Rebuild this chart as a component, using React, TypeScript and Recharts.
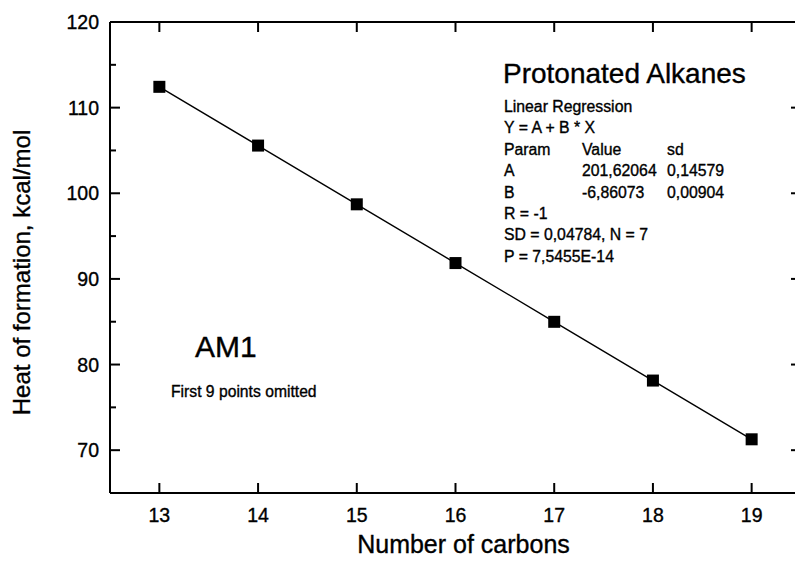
import React from 'react';
import { LineChart, Line, XAxis, YAxis } from 'recharts';

// Heat of formation of protonated alkanes (AM1), kcal/mol
const carbons = [13, 14, 15, 16, 17, 18, 19];
const heatOfFormation = [112.43, 105.57, 98.71, 91.85, 84.99, 78.13, 71.27];

const xTicks = [13, 14, 15, 16, 17, 18, 19];
const yTicks = [65, 70, 75, 80, 85, 90, 95, 100, 105, 110, 115, 120];

const xTitle = 'Number of carbons';
const yTitle = 'Heat of formation, kcal/mol';

const fitTitle = 'Protonated Alkanes';
const fitRows: string[][] = [
  ['Linear Regression'],
  ['Y = A + B * X'],
  ['Param', 'Value', 'sd'],
  ['A', '201,62064', '0,14579'],
  ['B', '-6,86073', '0,00904'],
  ['R  = -1'],
  ['SD = 0,04784, N = 7'],
  ['P = 7,5455E-14'],
];
const methodLabel = 'AM1';
const methodNote = 'First 9 points omitted';

const data = carbons.map((n, i) => ({ n, hf: heatOfFormation[i] }));

const X_DOMAIN: [number, number] = [12.5, 19.5];
const Y_DOMAIN: [number, number] = [65, 120];
const INK = '#000';
const frame = { stroke: INK, strokeWidth: 2 };
// scanned print looks a touch heavier than plain Arial
const ink = { fill: INK, stroke: INK, strokeWidth: 0.35 };

const isMajor = (v: number) => v % 10 === 0;
const tickLen = (v: number) => (isMajor(v) ? 10 : 6);

// ticks point into the plot; labels sit outside
const BottomTick = (props: any) => {
  const { x, y, payload } = props;
  return (
    <g>
      <line x1={x} y1={y} x2={x} y2={y - 10} {...frame} />
      <text x={x} y={y + 29} textAnchor="middle" fontSize={19.5} {...ink}>
        {payload.value}
      </text>
    </g>
  );
};

const TopTick = (props: any) => {
  const { x, y } = props;
  return <line x1={x} y1={y} x2={x} y2={y + 10} {...frame} />;
};

const LeftTick = (props: any) => {
  const { x, y, payload } = props;
  const v = payload.value;
  return (
    <g>
      <line x1={x} y1={y} x2={x + tickLen(v)} y2={y} {...frame} />
      {isMajor(v) && (
        <text x={x - 11} y={y + 7} textAnchor="end" fontSize={19.5} {...ink}>
          {v}
        </text>
      )}
    </g>
  );
};

const RightTick = (props: any) => {
  const { x, y, payload } = props;
  return <line x1={x} y1={y} x2={x - tickLen(payload.value)} y2={y} {...frame} />;
};

const XTitle = (props: any) => {
  const vb = props.viewBox;
  return (
    <text x={vb.x + vb.width / 2 + 8} y={vb.y + 60} textAnchor="middle" fontSize={25} {...ink}>
      {xTitle}
    </text>
  );
};

const YTitle = (props: any) => {
  const vb = props.viewBox;
  const x = vb.x + 30;
  const y = vb.y + vb.height / 2 + 15;
  return (
    <text x={x} y={y} textAnchor="middle" fontSize={24} {...ink} transform={`rotate(-90, ${x}, ${y})`}>
      {yTitle}
    </text>
  );
};

const colX = [504, 582, 667];

export default function App() {
  return (
    <div
      style={{
        position: 'absolute',
        left: 0,
        top: 0,
        width: 795,
        height: 562,
        overflow: 'hidden',
        background: '#fff',
        fontFamily: '"Liberation Sans", Arial, sans-serif',
      }}
    >
      <LineChart width={802} height={562} data={data} margin={{ top: 21, right: 0, bottom: 0, left: 0 }}>
        <XAxis
          xAxisId="x"
          type="number"
          dataKey="n"
          domain={X_DOMAIN}
          ticks={xTicks}
          allowDataOverflow
          height={69}
          axisLine={frame}
          tickLine={false}
          tickSize={0}
          tickMargin={0}
          tick={<BottomTick />}
          label={{ content: <XTitle /> }}
        />
        <XAxis
          xAxisId="xt"
          orientation="top"
          type="number"
          dataKey="n"
          domain={X_DOMAIN}
          ticks={xTicks}
          allowDataOverflow
          height={1}
          axisLine={frame}
          tickLine={false}
          tickSize={0}
          tickMargin={0}
          tick={<TopTick />}
        />
        <YAxis
          yAxisId="y"
          type="number"
          domain={Y_DOMAIN}
          ticks={yTicks}
          allowDataOverflow
          interval={0}
          width={110}
          axisLine={frame}
          tickLine={false}
          tickSize={0}
          tickMargin={0}
          tick={<LeftTick />}
          label={{ content: <YTitle /> }}
        />
        <YAxis
          yAxisId="yr"
          orientation="right"
          type="number"
          domain={Y_DOMAIN}
          ticks={yTicks}
          allowDataOverflow
          interval={0}
          width={1}
          axisLine={frame}
          tickLine={false}
          tickSize={0}
          tickMargin={0}
          tick={<RightTick />}
        />

        {/* the top/right frame axes need a series to be scaled; this one draws nothing */}
        <Line
          xAxisId="xt"
          yAxisId="yr"
          dataKey="hf"
          stroke="none"
          dot={false}
          activeDot={false}
          legendType="none"
          isAnimationActive={false}
        />
        <Line
          xAxisId="x"
          yAxisId="y"
          dataKey="hf"
          stroke={INK}
          strokeWidth={1.4}
          dot={(p: any) => (
            <rect key={p.index} x={p.cx - 6} y={p.cy - 6} width={12} height={12} fill={INK} />
          )}
          activeDot={false}
          isAnimationActive={false}
        />
      </LineChart>

      <svg
        width={795}
        height={562}
        style={{ position: 'absolute', left: 0, top: 0, pointerEvents: 'none' }}
      >
        <text x={503} y={83} fontSize={28} {...ink}>{fitTitle}</text>
        {fitRows.map((row, r) =>
          row.map((cell, c) => (
            <text key={`${r}-${c}`} x={colX[c]} y={112 + r * 21.4} fontSize={15.8} {...ink}>
              {cell}
            </text>
          ))
        )}
        <text x={195} y={357} fontSize={30} {...ink}>{methodLabel}</text>
        <text x={171} y={397} fontSize={15.7} {...ink}>{methodNote}</text>
      </svg>
    </div>
  );
}
